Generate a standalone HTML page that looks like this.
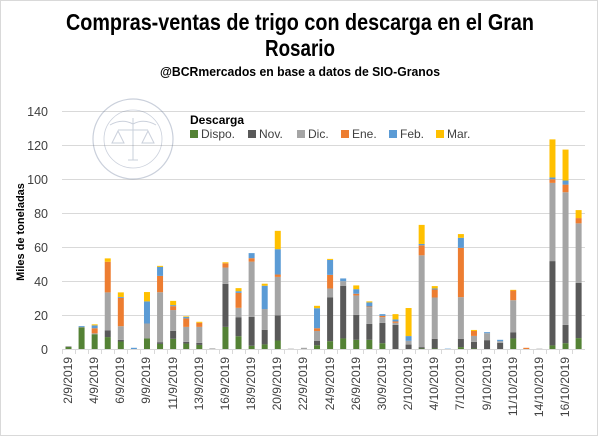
<!DOCTYPE html>
<html><head><meta charset="utf-8"><style>
html,body{margin:0;padding:0;background:#fff}
svg{display:block}
text{font-family:"Liberation Sans",sans-serif}
</style></head><body>
<svg id="s" width="600" height="436" viewBox="0 0 600 436" xmlns="http://www.w3.org/2000/svg">
<rect x="0.5" y="0.5" width="597" height="435" fill="#fff" stroke="#d9d9d9"/>
<text x="300" y="30" text-anchor="middle" font-size="23" font-weight="bold" textLength="468" lengthAdjust="spacingAndGlyphs">Compras-ventas de trigo con descarga en el Gran</text>
<text x="300" y="56" text-anchor="middle" font-size="23" font-weight="bold" textLength="70" lengthAdjust="spacingAndGlyphs">Rosario</text>
<text x="300" y="76" text-anchor="middle" font-size="12.5" font-weight="bold" textLength="280" lengthAdjust="spacingAndGlyphs">@BCRmercados en base a datos de SIO-Granos</text>
<g stroke="#d9d9d9" stroke-width="1">
<line x1="62" x2="585" y1="111.5" y2="111.5"/><line x1="62" x2="585" y1="145.5" y2="145.5"/>
<line x1="62" x2="585" y1="179.5" y2="179.5"/><line x1="62" x2="585" y1="213.5" y2="213.5"/>
<line x1="62" x2="585" y1="247.5" y2="247.5"/><line x1="62" x2="585" y1="281.5" y2="281.5"/>
<line x1="62" x2="585" y1="315.5" y2="315.5"/><line x1="62" x2="585" y1="349.5" y2="349.5"/>
</g>
<g font-size="12.5" fill="#404040" text-anchor="end">
<text x="48" y="116">140</text><text x="48" y="150">120</text><text x="48" y="184">100</text>
<text x="48" y="218">80</text><text x="48" y="252">60</text><text x="48" y="286">40</text>
<text x="48" y="320">20</text><text x="48" y="354">0</text>
</g>
<text transform="translate(24,232) rotate(-90)" text-anchor="middle" font-size="11" font-weight="bold">Miles de toneladas</text>
<g opacity="0.35" fill="none" stroke="#6a7a9a">
<circle cx="133" cy="139" r="40" stroke-width="1.2"/><circle cx="133" cy="139" r="29" stroke-width="0.8"/>
<path d="M133 118 V160 M118 130 H148 M110 125 Q122 118 133 124 Q144 118 156 125 M118 131 l-6 12 h12 z M148 131 l-6 12 h12 z M128 160 h10" stroke-width="1"/>
</g>
<text x="190" y="124" font-size="12" font-weight="bold">Descarga</text>
<g font-size="12" fill="#404040">
<rect x="190" y="130" width="8" height="8" fill="#548235"/><text x="201" y="138">Dispo.</text>
<rect x="248" y="130" width="8" height="8" fill="#595959"/><text x="259" y="138">Nov.</text>
<rect x="297" y="130" width="8" height="8" fill="#a5a5a5"/><text x="308" y="138">Dic.</text>
<rect x="341" y="130" width="8" height="8" fill="#ed7d31"/><text x="352" y="138">Ene.</text>
<rect x="389" y="130" width="8" height="8" fill="#5b9bd5"/><text x="400" y="138">Feb.</text>
<rect x="436" y="130" width="8" height="8" fill="#ffc000"/><text x="447" y="138">Mar.</text>
</g>
<g id="bars"></g>
<line x1="62" x2="585" y1="349.5" y2="349.5" stroke="#d9d9d9"/>
<g id="ticks" stroke="#d9d9d9"></g>
<g font-size="12" fill="#404040" text-anchor="end">
<text transform="translate(72,357) rotate(-90)">2/9/2019</text>
<text transform="translate(98,357) rotate(-90)">4/9/2019</text>
<text transform="translate(124,357) rotate(-90)">6/9/2019</text>
<text transform="translate(150,357) rotate(-90)">9/9/2019</text>
<text transform="translate(177,357) rotate(-90)">11/9/2019</text>
<text transform="translate(203,357) rotate(-90)">13/9/2019</text>
<text transform="translate(229,357) rotate(-90)">16/9/2019</text>
<text transform="translate(255,357) rotate(-90)">18/9/2019</text>
<text transform="translate(281,357) rotate(-90)">20/9/2019</text>
<text transform="translate(307,357) rotate(-90)">22/9/2019</text>
<text transform="translate(334,357) rotate(-90)">24/9/2019</text>
<text transform="translate(360,357) rotate(-90)">26/9/2019</text>
<text transform="translate(386,357) rotate(-90)">30/9/2019</text>
<text transform="translate(412,357) rotate(-90)">2/10/2019</text>
<text transform="translate(438,357) rotate(-90)">4/10/2019</text>
<text transform="translate(464,357) rotate(-90)">7/10/2019</text>
<text transform="translate(491,357) rotate(-90)">9/10/2019</text>
<text transform="translate(517,357) rotate(-90)">11/10/2019</text>
<text transform="translate(543,357) rotate(-90)">14/10/2019</text>
<text transform="translate(569,357) rotate(-90)">16/10/2019</text>
</g>
</svg>
<script>
var D=[[1.5,0,0.5,0,0,0],[13,0,0.3,0,0.5,0],[9,0,0.5,3,1.7,0.6],[7.3,4,22.3,18,0,2],[4.7,1,8,16.7,0.5,2.7],[0,0,0,0,1,0],
[6.5,0,8.8,0,13,5.5],[3.3,1,29.4,9.6,5.3,0.6],[6.3,4.7,12.2,2.3,0.6,2.5],[3.5,1,8.8,5,0.8,0.4],[2.7,1.2,9.4,2.4,0,0.6],[0,0.5,0,0,0,0],
[13.3,25.3,9.6,2.5,0,0.6],[7.8,11.2,5.5,8.8,1,1.8],[2.2,17,32.5,2,3,0],[3,8.6,12.2,0,13.7,1.2],[5.3,14.7,22.7,1.4,14.9,10.8],[0,0,0.5,0,0,0],
[0,0,1,0,0,0],[2.5,2.5,5.9,1.6,11.8,1.4],[4.9,25.7,5.3,8,8.8,0.6],[6.5,31,2.7,0,1.6,0],[5.7,14.7,11.4,1,2.7,2.2],[5.7,9.4,9.8,0.4,2.4,0.6],
[3.7,12,3.3,0.8,1,0],[0,14.5,1.2,0.8,1.2,3.1],[0,2.9,2.2,0,2.8,16.5],[0.6,0.8,54,5.9,0.8,11.2],[0.6,5.7,24.3,4.7,0.6,1.4],[0,0,0,0,0.5,0],
[1.4,4.9,24.5,29,5.9,2.2],[0.6,3.9,3.5,2.9,0,0.6],[0,5.5,4.1,0,0.6,0],[0,3.9,1,0,0.8,0],[6.5,3.5,19,5.7,0,0.4],[0,0,0,1,0,0],
[0,0,0.5,0,0,0],[2.4,49.6,46,2.2,1,22.4],[3.7,10.8,78,4.5,2.4,18.2],[6.7,32.5,35,3.1,0,4.7]];
var C=["#548235","#595959","#a5a5a5","#ed7d31","#5b9bd5","#ffc000"];
var ns="http://www.w3.org/2000/svg",g=document.getElementById("bars"),t=document.getElementById("ticks");
for(var i=0;i<D.length;i++){var cx=68.5+13.08*i,y=349.5;
for(var k=0;k<6;k++){var h=D[i][k]*1.7;if(h<=0)continue;var r=document.createElementNS(ns,"rect");
r.setAttribute("x",cx-3);r.setAttribute("width",6);r.setAttribute("y",y-h);r.setAttribute("height",h);r.setAttribute("fill",C[k]);g.appendChild(r);y-=h;}
var l=document.createElementNS(ns,"line");var tx=Math.round(62+13.08*i)+0.5;l.setAttribute("x1",tx);l.setAttribute("x2",tx);l.setAttribute("y1",349);l.setAttribute("y2",354);t.appendChild(l);}
</script>
</body></html>
